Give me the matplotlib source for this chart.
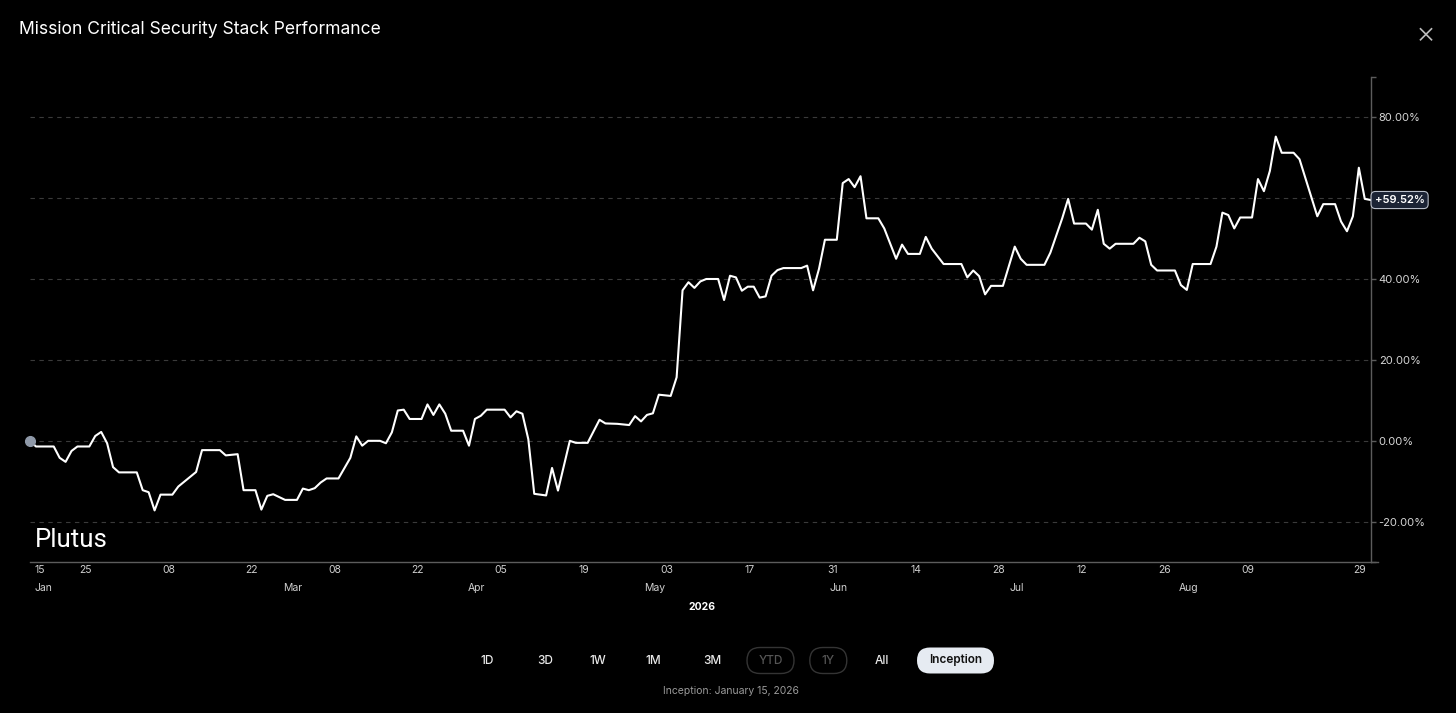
import matplotlib
matplotlib.use('Agg')
import matplotlib.pyplot as plt
import matplotlib.dates as mdates
import pandas as pd
from matplotlib.patches import FancyBboxPatch

plt.rcParams['font.family'] = ['Inter', 'DejaVu Sans']

# --- data: days since inception and cumulative return (%) ---
start = pd.Timestamp('2026-01-15')
days = [0, 1, 4, 5, 6, 7, 8, 10, 11, 12,
        13, 14, 15, 18, 19, 20, 21, 22, 24, 25,
        28, 29, 32, 33, 35, 36, 38, 39, 40, 41,
        43, 45, 46, 47, 48, 49, 50, 52, 54, 55,
        56, 57, 59, 60, 61, 62, 63, 64, 66, 67,
        68, 69, 70, 71, 73, 74, 75, 76, 77, 80,
        81, 82, 83, 84, 85, 86, 87, 88, 89, 91,
        92, 94, 96, 97, 99, 101, 102, 103, 104, 105,
        106, 108, 109, 110, 111, 112, 113, 114, 116, 117,
        118, 119, 120, 121, 122, 123, 124, 125, 126, 127,
        130, 131, 132, 133, 134, 136, 137, 138, 139, 140,
        141, 143, 144, 146, 147, 148, 150, 151, 152, 154,
        157, 158, 159, 160, 161, 162, 164, 166, 167, 168,
        171, 172, 174, 175, 176, 178, 179, 180, 181, 182,
        183, 186, 187, 188, 189, 190, 193, 194, 195, 196,
        199, 200, 201, 202, 203, 204, 206, 207, 208, 209,
        210, 211, 213, 214, 217, 218, 220, 221, 222, 223,
        224, 225, 226]
returns = [0.0, -1.4, -1.4, -4.2, -5.2, -2.5, -1.4, -1.4, 1.2, 2.2,
           -0.6, -6.5, -7.8, -7.8, -12.2, -12.7, -17.2, -13.3, -13.3, -11.3,
           -7.7, -2.3, -2.3, -3.6, -3.3, -12.2, -12.2, -17.0, -13.6, -13.2,
           -14.6, -14.6, -11.8, -12.2, -11.7, -10.3, -9.3, -9.3, -4.2, 1.1,
           -1.2, 0.0, 0.0, -0.6, 2.1, 7.5, 7.7, 5.4, 5.4, 9.0,
           6.4, 9.0, 6.7, 2.5, 2.5, -1.2, 5.4, 6.2, 7.7, 7.7,
           5.8, 7.3, 6.7, 0.4, -13.1, -13.3, -13.5, -6.7, -12.3, 0.0,
           -0.5, -0.5, 5.2, 4.3, 4.2, 3.9, 6.1, 4.8, 6.4, 6.8,
           11.4, 11.1, 15.7, 37.2, 39.2, 37.8, 39.4, 40.0, 40.0, 34.8,
           40.8, 40.4, 37.1, 38.1, 38.1, 35.4, 35.7, 40.8, 42.2, 42.7,
           42.7, 43.3, 37.2, 42.5, 49.7, 49.7, 63.7, 64.7, 62.7, 65.4,
           55.0, 55.0, 52.5, 45.0, 48.5, 46.2, 46.2, 50.4, 47.5, 43.7,
           43.7, 40.4, 42.1, 40.7, 36.2, 38.3, 38.3, 48.0, 45.0, 43.5,
           43.5, 46.5, 55.0, 59.8, 53.7, 53.7, 52.2, 57.1, 48.7, 47.5,
           48.7, 48.7, 50.2, 49.3, 43.5, 42.1, 42.1, 38.5, 37.3, 43.7,
           43.7, 48.0, 56.4, 55.8, 52.5, 55.2, 55.2, 64.7, 61.7, 66.7,
           75.2, 71.2, 71.2, 69.6, 55.5, 58.5, 58.5, 54.2, 51.8, 55.5,
           67.5, 59.8, 59.52]

tick_dates = ['2026-01-15', '2026-01-25', '2026-02-08', '2026-02-22', '2026-03-08',
              '2026-03-22', '2026-04-05', '2026-04-19', '2026-05-03', '2026-05-17',
              '2026-05-31', '2026-06-14', '2026-06-28', '2026-07-12', '2026-07-26',
              '2026-08-09', '2026-08-29']
month_dates = ['2026-01-15', '2026-03-01', '2026-04-01', '2026-05-01',
               '2026-06-01', '2026-07-01', '2026-07-30']
month_names = ['Jan', 'Mar', 'Apr', 'May', 'Jun', 'Jul', 'Aug']
year_date = '2026-05-09'
y_ticks = [-20, 0, 20, 40, 60, 80]

ranges = ['1D', '3D', '1W', '1M', '3M', 'YTD', '1Y', 'All', 'Inception']
range_x = [487, 545, 598, 653.5, 712, 770.5, 828.3, 881.7, 955.5]
disabled = {'YTD': 47, '1Y': 37}
active = ('Inception', 77)

title = 'Mission Critical Security Stack Performance'
W, H = 1456, 713
PT = 0.72  # points per pixel at dpi 100

dates = start + pd.to_timedelta(days, unit='D')

fig = plt.figure(figsize=(W / 100, H / 100), dpi=100, facecolor='black')

# overlay in pixel coordinates for the surrounding UI
ui = fig.add_axes([0, 0, 1, 1], zorder=0)
ui.set_xlim(0, W)
ui.set_ylim(H, 0)
ui.axis('off')
ui.set_facecolor('none')

ax = fig.add_axes([30 / W, (H - 562.2) / H, (1370.7 - 30) / W, (562.2 - 76.7) / H], zorder=1)
ax.set_facecolor('none')

ax.plot(dates, returns, color='white', lw=1.5, zorder=4)
ax.plot(dates[0], returns[0], 'o', ms=7, color='#8f99a8', zorder=5, clip_on=False)
ax.set_xlim(dates[0], dates[-1])
ax.set_ylim(-30, 90)

for y in y_ticks:
    ax.axhline(y, color='#3a3a3a', lw=0.8, ls=(0, (4, 4)), zorder=1)

for side in ['top', 'left']:
    ax.spines[side].set_visible(False)
for side in ['right', 'bottom']:
    ax.spines[side].set_color('#5c5c5c')
    ax.spines[side].set_linewidth(1)
ax.plot([1, 1 + 7 / 1340.7], [0, 0], transform=ax.transAxes, color='#5c5c5c',
        lw=1, clip_on=False)

ax.yaxis.tick_right()
ax.set_yticks(y_ticks)
ax.set_yticklabels(['' if v == 60 else f'{v:.2f}%' for v in y_ticks])
ax.set_yticks([-30, 90], minor=True)
ax.tick_params(axis='y', which='both', length=5 * PT, width=1, color='#5c5c5c',
               labelcolor='#d6d6d6', labelsize=8, pad=3 * PT)
ax.set_xticks([])

# date labels below the axis
def under_label(date, text, dy, ha='center', dx=-4, **kw):
    ax.annotate(text, xy=(mdates.date2num(pd.Timestamp(date)), 0),
                xycoords=('data', 'axes fraction'),
                xytext=(dx * PT, -dy * PT), textcoords='offset points',
                ha=ha, va='center', annotation_clip=False, **kw)

for i, d in enumerate(tick_dates):
    lbl = pd.Timestamp(d).strftime('%d')
    if i == 0:
        under_label(d, lbl, 7.5, ha='left', dx=5, fontsize=7.5, color='#cfcfcf')
    elif i == len(tick_dates) - 1:
        under_label(d, lbl, 7.5, ha='right', dx=-5, fontsize=7.5, color='#cfcfcf')
    else:
        under_label(d, lbl, 7.5, fontsize=7.5, color='#cfcfcf')

for i, (d, name) in enumerate(zip(month_dates, month_names)):
    if i == 0:
        under_label(d, name, 26, ha='left', dx=5, fontsize=7.5, color='#cfcfcf')
    else:
        under_label(d, name, 26, fontsize=7.5, color='#cfcfcf')
under_label(year_date, year_date[:4], 45, fontsize=7.5, color='white', fontweight='bold')

# last value badge
ax.annotate(f'+{returns[-1]:.2f}%', xy=(dates[-1], returns[-1]), xytext=(2.8, 0),
            textcoords='offset points', ha='left', va='center', fontsize=8,
            fontweight='semibold', color='white', annotation_clip=False, zorder=6,
            bbox=dict(boxstyle='round,pad=0.32,rounding_size=0.4', fc='#1c2435',
                      ec='#b9bfca', lw=0.8))

# watermark
ax.text(5 / 1340.7, (562.2 - 546.7) / 485.5, 'Plutus', transform=ax.transAxes,
        fontsize=18.5, family=['Roboto', 'Liberation Sans'],
        color='white', va='baseline', ha='left', zorder=3)

# header
ui.text(19, 29, title, fontsize=12.6, color='white', va='center', ha='left')
ui.plot([1420.5, 1431.5], [28.8, 39.8], color='#bdbdbd', lw=1.2)
ui.plot([1431.5, 1420.5], [28.8, 39.8], color='#bdbdbd', lw=1.2)

# range buttons
for name, cx in zip(ranges, range_x):
    color = '#e8e8e8'
    weight = 'medium'
    if name in disabled:
        w = disabled[name]
        ui.add_patch(FancyBboxPatch((cx - w / 2, 647.5), w, 26,
                                    boxstyle='round,pad=0,rounding_size=13',
                                    fc='none', ec='#343434', lw=1))
        color = '#555555'
    elif name == active[0]:
        w = active[1]
        ui.add_patch(FancyBboxPatch((cx - w / 2, 647.5), w, 26,
                                    boxstyle='round,pad=0,rounding_size=13',
                                    fc='#e6ebf2', ec='none'))
        color = '#111111'
        weight = 'semibold'
    ui.text(cx, 660.5, name, fontsize=8.5, fontweight=weight, color=color,
            ha='center', va='center')

ui.text(730.5, 690.5, 'Inception: January 15, 2026', fontsize=7.5, color='#9a9a9a',
        ha='center', va='center')

fig.savefig('out.png', dpi=100, facecolor='black')
